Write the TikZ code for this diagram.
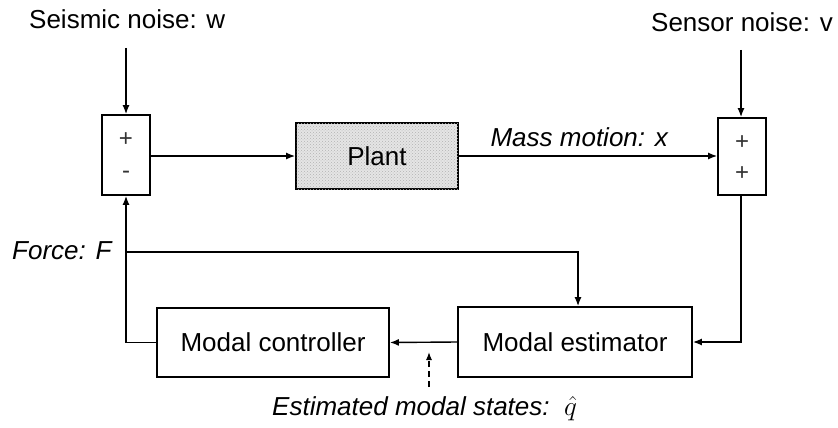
\documentclass[tikz,border=0pt]{standalone}
\usepackage{fontspec}
\setmainfont{Liberation Sans}
\usetikzlibrary{arrows.meta,patterns,calc}
\tikzset{
  lbl/.style={font=\fontsize{26}{30}\selectfont, inner sep=0pt},
  ilbl/.style={font=\fontsize{26}{30}\selectfont\itshape, inner sep=0pt},
  blk/.style={draw, line width=1.8pt, inner sep=0pt, font=\fontsize{26}{30}\selectfont},
  sumbox/.style={draw, line width=1.8pt, inner sep=0pt, minimum width=48pt, minimum height=80pt},
  sgn/.style={font=\fontsize{24}{28}\selectfont, inner sep=0pt, text=black!80},
  arr/.style={line width=1.4pt, -{Latex[length=9pt,width=7pt]}},
  ln/.style={line width=1.4pt},
}
\begin{document}
\begin{tikzpicture}[x=1pt,y=-1pt]
\useasboundingbox (0,0) rectangle (838,428);
% labels
\node[lbl, anchor=base west] (wlab) at (29,29) {Seismic noise: w};
\node[lbl, anchor=base east] (vlab) at (833,32) {Sensor noise: v};
\node[ilbl, anchor=base east] (xlab) at (668,146) {Mass motion: x};
\node[ilbl, anchor=base west] (flab) at (12,259) {Force: F};
\node[ilbl, anchor=base west] (qlab) at (272,415) {Estimated modal states:};
\node[inner sep=0pt, anchor=base west, font=\fontsize{33}{36}\selectfont] (qhat) at (564,415) {\scalebox{1.1}{$\hat{q}$}};
% blocks
\node[sumbox] (s1) at (126,155) {};
\node[sgn] (s1p) at (126,140) {+};
\node[sgn] (s1m) at (126,175) {-};
\node[sumbox, minimum height=77pt] (s2) at (742,156.5) {};
\node[sgn] (s2p) at (742,143) {+};
\node[sgn] (s2q) at (742,174) {+};
\node[blk, minimum width=162pt, minimum height=66pt, fill=black!10,
      postaction={pattern=crosshatch dots, pattern color=black!30}] (plant) at (377,156) {};
\node[lbl] (plantt) at (377,156) {Plant};
\node[blk, minimum width=232pt, minimum height=69pt] (ctrl) at (273,342.5) {Modal controller};
\node[blk, minimum width=234pt, minimum height=70pt] (est) at (575,342) {Modal estimator};
% coordinates
\coordinate (wtop) at (126,48);
\coordinate (vtop) at (741,50);
\coordinate (fj) at (126,252);
\coordinate (dsh) at (429,387);
\coordinate (dend) at (429,352);
% connectors
\draw[arr] (wtop) -- (s1.north);
\draw[arr] (vtop) -- (s2.north -| vtop);
\draw[arr] (s1.east |- plant.west) -- (plant.west);
\draw[arr] (plant.east) -- (s2.west |- plant.east);
\draw[arr] (s2.south -| vtop) |- (est.east);
\draw[arr] (est.west) -- (ctrl.east);
\draw[arr] (ctrl.west) -| (s1.south);
\draw[arr] (fj) -| ($(est.north)+(3,0)$);
\draw[line width=1.2pt, dashed, dash pattern=on 6pt off 4pt, -{Latex[length=8pt,width=6pt]}] (dsh) -- (dend);
\end{tikzpicture}
\end{document}
